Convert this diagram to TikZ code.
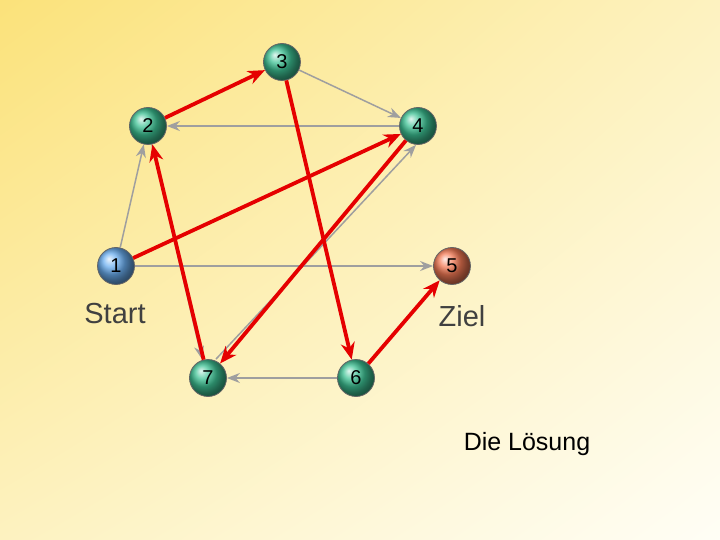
\documentclass[tikz,border=0pt]{standalone}
\usepackage{fontspec}
\setmainfont{Liberation Sans}
\usetikzlibrary{arrows.meta,shadings}
\definecolor{bgy}{HTML}{FBE27A}
\definecolor{bgm}{HTML}{FDF2C0}
\definecolor{bgw}{HTML}{FFFEF6}
\definecolor{gr}{HTML}{3DC294}
\definecolor{bl}{HTML}{6AAEF0}
\definecolor{or}{HTML}{F47A55}
\tikzset{
 ball/.style={circle,minimum size=37pt,inner sep=0pt,draw=black!60,line width=0.8pt,ball color=#1,font=\fontsize{20}{20}\selectfont},
 gray/.style={draw=gray!75,line width=1.5pt,-{Stealth[length=13pt,width=10pt]}},
 red/.style={draw=red!90!black,line width=3.8pt,-{Stealth[length=17pt,width=14pt]}},
 lbl/.style={font=\fontsize{29}{29}\selectfont,text=black!75}
}
\begin{document}
\begin{tikzpicture}[x=1pt,y=-1pt]
\shade[upper left=bgy,upper right=bgm,lower left=bgm,lower right=bgw] (0,0) rectangle (720,540);
\useasboundingbox (0,0) rectangle (720,540);
\node[ball=gr] (n3) at (282,62) {3};
\node[ball=gr] (n2) at (148,126) {2};
\node[ball=gr] (n4) at (418,126) {4};
\node[ball=bl] (n1) at (116,266) {1};
\node[ball=or] (n5) at (452,266) {5};
\node[ball=gr] (n7) at (208,378) {7};
\node[ball=gr] (n6) at (356,378) {6};
\node[lbl] (s) at (115,314) {Start};
\node[lbl] (z) at (462,316) {Ziel};
\node[font=\fontsize{25}{25}\selectfont] (d) at (527,444) {Die Lösung};
\draw[gray] (n3) -- (n4);
\draw[gray] (n4) -- (n2);
\draw[gray] (n1) -- (n2);
\draw[gray] (n1) -- (n5);
\draw[gray] (n6) -- (n7);
\draw[gray] ([xshift=4pt]n2.south) -- ([xshift=-6pt]n7.north);
\draw[gray] ([xshift=8pt]n7.north) -- ([xshift=-2pt]n4.south);
\draw[red] (n2) -- (n3);
\draw[red] (n1) -- (n4);
\draw[red] (n4) -- (n7);
\draw[red] (n7) -- (n2);
\draw[red] (n3) -- (n6);
\draw[red] (n6) -- (n5);
\end{tikzpicture}
\end{document}
